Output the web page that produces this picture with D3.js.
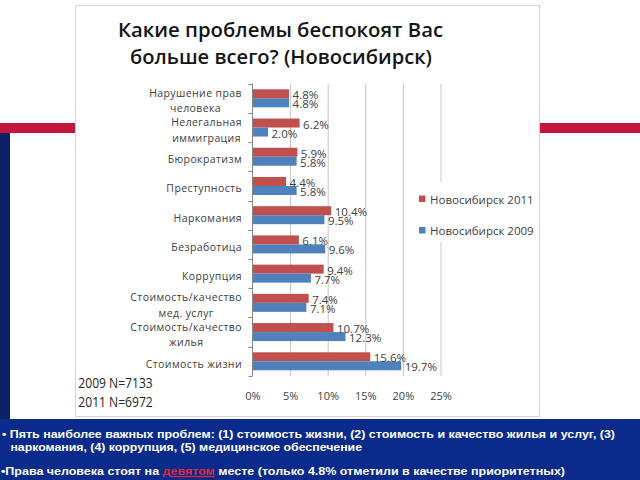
<!DOCTYPE html>
<html><head><meta charset="utf-8">
<script src="https://cdn.jsdelivr.net/npm/d3@7"></script>
<style>html,body{margin:0;padding:0;background:#fff;overflow:hidden}</style>
</head><body><svg id="c" width="640" height="480"></svg>
<script>
const categories = ["Нарушение прав\nчеловека","Нелегальная\nиммиграция","Бюрократизм","Преступность","Наркомания","Безработица","Коррупция","Стоимость/качество\nмед. услуг","Стоимость/качество\nжилья","Стоимость жизни"];
const seriesNames = ["Новосибирск 2011","Новосибирск 2009"];
const values2011 = [4.8,6.2,5.9,4.4,10.4,6.1,9.4,7.4,10.7,15.6];
const values2009 = [4.8,2.0,5.8,5.8,9.5,9.6,7.7,7.1,12.3,19.7];
const tickValues = [0,5,10,15,20,25];
const titleLines = ["Какие проблемы беспокоят Вас","больше всего? (Новосибирск)"];
const sampleNotes = ["2009 N=7133","2011 N=6972"];
const bullet1 = ["• Пять наиболее важных проблем: (1) стоимость жизни, (2) стоимость и качество жилья и услуг, (3)"," наркомания, (4) коррупция, (5) медицинское обеспечение"];
const bullet2 = ["•Права человека стоят на ","девятом"," месте (только 4.8% отметили в качестве приоритетных)"];

const colors = {"Новосибирск 2011":"#c0504d","Новосибирск 2009":"#4f81bd"};
const svg = d3.select("#c");
const F = "'Open Sans', Lato, sans-serif";

// slide decoration
svg.append("rect").attr("x",0).attr("y",0).attr("width",640).attr("height",480).attr("fill","#fff");
svg.append("rect").attr("x",0).attr("y",123).attr("width",640).attr("height",10).attr("fill","#c4153f");
svg.append("rect").attr("x",0).attr("y",133).attr("width",10).attr("height",290).attr("fill","#0b2266");
svg.append("rect").attr("x",0).attr("y",419).attr("width",640).attr("height",61).attr("fill","#0a2a8c");
svg.append("rect").attr("x",75.5).attr("y",5.5).attr("width",464).attr("height",411).attr("fill","#fff").attr("stroke","#d4d4d4");

// title
const titleSpec = [{x:118,y:37,w:325},{x:130,y:63.5,w:302}];
titleLines.forEach((t,i)=>{
  svg.append("text").attr("x",titleSpec[i].x).attr("y",titleSpec[i].y)
    .attr("font-family",F).attr("font-size",20).attr("font-weight",600).attr("fill","#151515")
    .attr("textLength",titleSpec[i].w).attr("lengthAdjust","spacingAndGlyphs").text(t);
});

// scales
const x = d3.scaleLinear().domain([0,25]).range([252.5,440.5]);
const plotTop = 83.7, plotBottom = 375.9;
const y = d3.scaleBand().domain(categories).range([plotTop,plotBottom]).paddingInner(0.384).paddingOuter(0.192);
const ys = d3.scaleBand().domain(seriesNames).range([0,y.bandwidth()]);

// gridlines
svg.append("g").selectAll("line").data(tickValues.slice(1)).join("line")
  .attr("x1",d=>x(d)+0.5).attr("x2",d=>x(d)+0.5).attr("y1",plotTop).attr("y2",plotBottom)
  .attr("stroke","#c6c6c6").attr("stroke-width",1);

// bottom axis labels
const xAxis = d3.axisBottom(x).tickValues(tickValues).tickFormat(d=>d+"%").tickSize(0).tickPadding(16);
const gx = svg.append("g").attr("transform",`translate(0,${plotBottom})`).call(xAxis);
gx.select(".domain").remove();
gx.selectAll("text").attr("font-family",F).attr("font-size",11).attr("fill","#404040");

// left axis line + ticks between categories
svg.append("line").attr("x1",252.5).attr("x2",252.5).attr("y1",plotTop).attr("y2",plotBottom).attr("stroke","#868686");
const bounds = categories.map(c=>y(c)-(y.step()-y.bandwidth())/2).concat([plotBottom]);
svg.append("g").selectAll("line").data(bounds).join("line")
  .attr("x1",248.5).attr("x2",252.5).attr("y1",d=>Math.round(d)+0.5).attr("y2",d=>Math.round(d)+0.5).attr("stroke","#868686");

// bars
const rows = categories.map((c,i)=>({c, vals:[{s:seriesNames[0],v:values2011[i]},{s:seriesNames[1],v:values2009[i]}]}));
const g = svg.append("g").selectAll("g").data(rows).join("g").attr("transform",d=>`translate(0,${y(d.c)})`);
g.selectAll("rect").data(d=>d.vals).join("rect")
  .attr("x",x(0)+0.5).attr("y",d=>ys(d.s)).attr("width",d=>x(d.v)-x(0)).attr("height",ys.bandwidth())
  .attr("fill",d=>colors[d.s]);
g.selectAll("text").data(d=>d.vals).join("text")
  .attr("x",d=>x(d.v)+4).attr("y",d=>ys(d.s)+ys.bandwidth()/2+5.5)
  .attr("font-family",F).attr("font-size",11.5).attr("fill","#404040")
  .text(d=>d.v.toFixed(1)+"%");

// category labels
categories.forEach(c=>{
  const lines = c.split("\n");
  const cy = y(c)+y.bandwidth()/2;
  if(lines.length===1){
    svg.append("text").attr("x",242).attr("y",cy+6.4).attr("text-anchor","end")
      .attr("font-family",F).attr("font-size",10.5).attr("letter-spacing",0.4).attr("fill","#404040").text(lines[0]);
  } else {
    const ts = lines.map((l,i)=>svg.append("text").attr("y",cy+(i===0?-1.5:14))
      .attr("font-family",F).attr("font-size",10.5).attr("letter-spacing",0.4).attr("fill","#404040").attr("text-anchor","middle").text(l));
    const mw = d3.max(ts,t=>t.node().getComputedTextLength());
    ts.forEach(t=>t.attr("x",242-mw/2));
  }
});

// legend
const lg = svg.append("g");
lg.append("rect").attr("x",412).attr("y",182).attr("width",124).attr("height",60).attr("fill","#fff");
seriesNames.forEach((s,i)=>{
  lg.append("rect").attr("x",419).attr("y",195.5+i*31.5).attr("width",6.5).attr("height",6.5).attr("fill",colors[s]);
  lg.append("text").attr("x",430).attr("y",203.5+i*31.5).attr("font-family",F).attr("font-size",11.5).attr("fill","#404040").text(s);
});

// sample notes
sampleNotes.forEach((t,i)=>{
  svg.append("text").attr("x",78.3).attr("y",388+i*19.3).attr("font-family",F).attr("font-size",14)
    .attr("fill","#262626").attr("textLength",74.5).attr("lengthAdjust","spacingAndGlyphs").text(t);
});

// bottom bullets
const BF = "'Liberation Sans', Arial, sans-serif";
const b1spec = [{x:2,y:437.5,w:613},{x:7,y:451,w:355}];
bullet1.forEach((t,i)=>{
  svg.append("text").attr("x",b1spec[i].x).attr("y",b1spec[i].y).attr("font-family",BF).attr("font-weight","bold")
    .attr("font-size",11.5).attr("fill","#fff").attr("textLength",b1spec[i].w).attr("lengthAdjust","spacingAndGlyphs")
    .style("white-space","pre").text(t);
});
const t3 = svg.append("text").attr("x",1).attr("y",475).attr("font-family",BF).attr("font-weight","bold")
  .attr("font-size",11.5).attr("fill","#fff").attr("textLength",564).attr("lengthAdjust","spacingAndGlyphs").style("white-space","pre");
bullet2.forEach((t,i)=>{
  const ts = t3.append("tspan").text(t);
  if(i===1) ts.attr("fill","#e0283c").attr("text-decoration","underline");
});
</script></body></html>
